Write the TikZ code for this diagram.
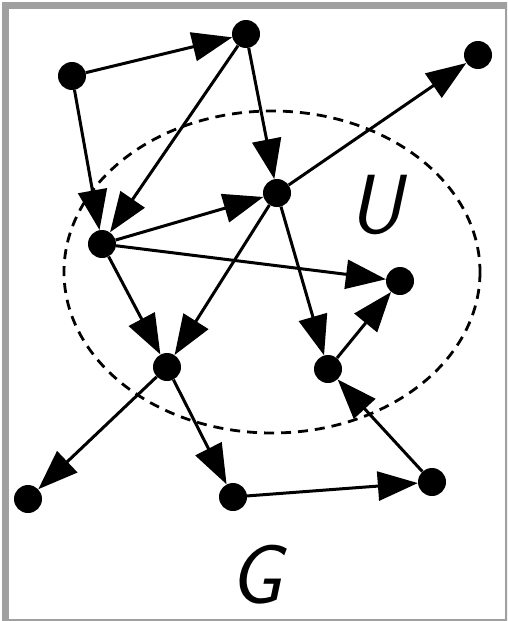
\documentclass[tikz,border=0pt]{standalone}
\usetikzlibrary{arrows.meta}
\begin{document}
\begin{tikzpicture}[x=1pt,y=-1pt,
  vtx/.style={circle,fill=black,inner sep=0pt,minimum size=28pt},
  edge/.style={line width=3pt,-{Triangle[length=40pt,width=29pt]}},
  lbl/.style={font=\fontsize{84}{90}\selectfont\sffamily\itshape}]
\useasboundingbox (0,0) rectangle (507,621);
\begin{scope}
\clip (0,0) rectangle (507,621);
\draw[line width=6.5pt,color={rgb,255:red,160;green,160;blue,160}] (5.25,5.25) rectangle (508.5,622.5);
\end{scope}
\draw[line width=2.8pt,dash pattern=on 10pt off 7pt] (272,272) ellipse [x radius=208,y radius=161];
\node[vtx] (A) at (72,76) {};
\node[vtx] (B) at (246,34) {};
\node[vtx] (C) at (478,55) {};
\node[vtx] (D) at (277,193) {};
\node[vtx] (E) at (102,244) {};
\node[vtx] (F) at (400,281) {};
\node[vtx] (H) at (167,367) {};
\node[vtx] (I) at (328,369) {};
\node[vtx] (J) at (28,499) {};
\node[vtx] (K) at (233,497) {};
\node[vtx] (L) at (432,482) {};
\node[lbl] (U) at (376,205) {U};
\node[lbl] (G) at (256,575) {G};
\draw[edge] (A) -- (B);
\draw[edge] (A) -- (E);
\draw[edge] (B) -- (E);
\draw[edge] (B) -- (D);
\draw[edge] (D) -- (C);
\draw[edge] (E) -- (D);
\draw[edge] (E) -- (F);
\draw[edge] (E) -- (H);
\draw[edge] (D) -- (H);
\draw[edge] (D) -- (I);
\draw[edge] (I) -- (F);
\draw[edge] (H) -- (J);
\draw[edge] (H) -- (K);
\draw[edge] (K) -- (L);
\draw[edge] (L) -- (I);
\end{tikzpicture}
\end{document}
